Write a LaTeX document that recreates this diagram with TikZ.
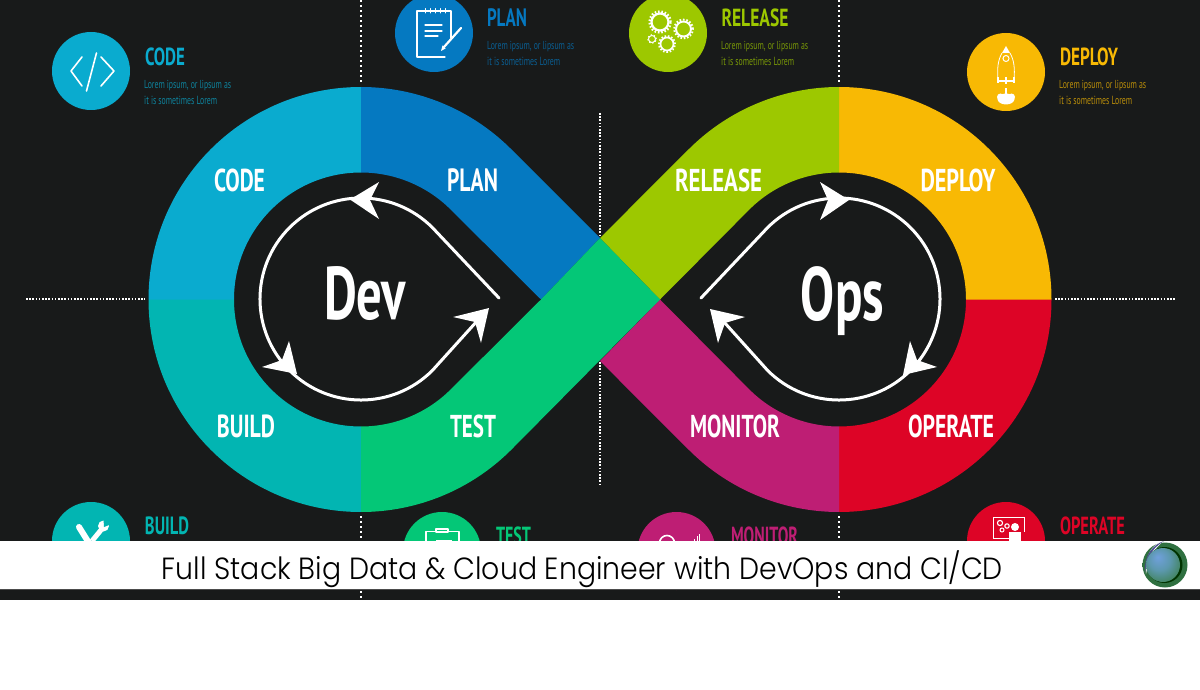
\documentclass[tikz,border=0pt]{standalone}
\usepackage{fontspec}
\usepackage{graphicx}
\setmainfont{PT Sans}
\newfontfamily\labfont[BoldFont=PT Sans Bold]{PT Sans}
\newfontfamily\handfont{Poppins Light}
\definecolor{bgdark}{HTML}{181A1A}
\definecolor{ccode}{HTML}{0AABCF}
\definecolor{cplan}{HTML}{0579C1}
\definecolor{crelease}{HTML}{9DC800}
\definecolor{cdeploy}{HTML}{F8B904}
\definecolor{cbuild}{HTML}{02B5B2}
\definecolor{ctest}{HTML}{04C777}
\definecolor{cmonitor}{HTML}{BE1E74}
\definecolor{coperate}{HTML}{DD0426}
\definecolor{lga}{HTML}{70A0DC}
\definecolor{lgb}{HTML}{5C98AE}
\definecolor{lgc}{HTML}{3D8050}
\definecolor{lgd}{HTML}{1E5A34}
\definecolor{lge}{HTML}{2F7040}
\definecolor{lgf}{HTML}{1C4A30}
\pgfdeclareradialshading{logoball}{\pgfpoint{-8bp}{12bp}}{color(0bp)=(lga); color(16bp)=(lgb); color(34bp)=(lgc); color(50bp)=(lgd)}
\pgfdeclareradialshading{logoring}{\pgfpoint{0bp}{0bp}}{color(0bp)=(lge); color(40bp)=(lge); color(50bp)=(lgf)}
% name, cx, cy, width, height, colour, text
\newcommand{\fitlab}[7]{\node[inner sep=0pt,text=#6] (#1) at (#2,#3) {\resizebox*{#4pt}{#5pt}{\labfont\bfseries #7}};}
% name, left x, y of first line, colour
\newcommand{\loremlab}[4]{%
  \node[inner sep=0pt,anchor=west,text=#4!72!bgdark] (#1a) at (#2,#3) {\resizebox*{87pt}{10.5pt}{\labfont Lorem ipsum, or lipsum as}};
  \node[inner sep=0pt,anchor=west,text=#4!72!bgdark] (#1b) at (#2,#3+14) {\resizebox*{73pt}{8.5pt}{\labfont it is sometimes Lorem}};}
\newcommand{\gearic}[3]{%
  \draw[white,line width=#3*0.26pt] (#1,#2) circle[radius=#3*1pt];
  \draw[white,line width=#3*0.26pt,dash pattern=on 1.6pt off 1.8pt] (#1,#2) circle[radius=#3*1.25pt];}
\tikzset{
  dots/.style={white,line width=1.8pt,dash pattern=on 1.6pt off 1.6pt},
  sparsedots/.style={white,line width=2pt,dash pattern=on 2pt off 3pt},
  loopline/.style={white,line width=3pt,line cap=round,line join=round},
  head/.style={fill=white,draw=none},
  iconline/.style={white,line width=1.3pt,line cap=round,line join=round},
  iconbold/.style={white,line width=2.2pt,line cap=round,line join=round},
  disc/.style={circle,inner sep=0pt,minimum size=78pt}
}
\begin{document}
\begin{tikzpicture}[x=1pt,y=-1pt]
\useasboundingbox (0,0) rectangle (1200,690);
\fill[white] (0,0) rectangle (1200,690);
\fill[bgdark] (0,0) rectangle (1200,600);

% dotted lines
\draw[sparsedots] (361,0) -- (361,84);
\draw[sparsedots] (361,516) -- (361,600);
\draw[sparsedots] (839,0) -- (839,84);
\draw[sparsedots] (839,516) -- (839,600);
\draw[dots] (600,113) -- (600,235);
\draw[dots] (600,362) -- (600,485);
\draw[dots] (26,299) -- (145,299);
\draw[dots] (1055,299) -- (1175,299);

% band
\fill[ccode] (149,299) rectangle (234,300);
\fill[cdeploy] (966,299) rectangle (1051,300);
\fill[ccode] (148.5,299.5) arc[start angle=180,end angle=90,radius=212.5pt] -- (361,172.5) arc[start angle=90,end angle=180,radius=127pt] -- cycle;
\fill[cbuild] (148.5,299.5) arc[start angle=180,end angle=270,radius=212.5pt] -- (361,426.5) arc[start angle=270,end angle=180,radius=127pt] -- cycle;
\fill[cdeploy] (1051.5,299.5) arc[start angle=0,end angle=90,radius=212.5pt] -- (839,172.5) arc[start angle=90,end angle=0,radius=127pt] -- cycle;
\fill[coperate] (1051.5,299.5) arc[start angle=0,end angle=-90,radius=212.5pt] -- (839,426.5) arc[start angle=-90,end angle=0,radius=127pt] -- cycle;
\fill[cplan] (361,87) arc[start angle=90,end angle=45,radius=212.5pt] -- (600,238) -- (541,299.5) -- (450.8,209.7) arc[start angle=45,end angle=90,radius=127pt] -- cycle;
\fill[crelease] (839,87) arc[start angle=90,end angle=135,radius=212.5pt] -- (600,238) -- (660,299.5) -- (749.2,209.7) arc[start angle=135,end angle=90,radius=127pt] -- cycle;
\fill[cmonitor] (839,512) arc[start angle=-90,end angle=-135,radius=212.5pt] -- (600,361) -- (660,299.5) -- (749.2,389.3) arc[start angle=-135,end angle=-90,radius=127pt] -- cycle;
\fill[ctest] (361,512) arc[start angle=-90,end angle=-45,radius=212.5pt] -- (660,299.5) -- (600,238) -- (541,299.5) -- (450.8,389.3) arc[start angle=-45,end angle=-90,radius=127pt] -- cycle;

% band labels
\fitlab{lcode}{239.5}{180.5}{51}{23}{white}{CODE}
\fitlab{lplan}{472.5}{180.5}{51}{23}{white}{PLAN}
\fitlab{lrelease}{718.5}{180.5}{87}{23}{white}{RELEASE}
\fitlab{ldeploy}{958}{180.5}{75}{23}{white}{DEPLOY}
\fitlab{lbuild}{246}{426}{58}{23}{white}{BUILD}
\fitlab{ltest}{473}{426}{46}{23}{white}{TEST}
\fitlab{lmonitor}{735}{426}{90}{23}{white}{MONITOR}
\fitlab{loperate}{951}{426}{86}{23}{white}{OPERATE}
\fitlab{dev}{365}{294}{82}{54}{white}{Dev}
\fitlab{ops}{842.5}{301.5}{83}{69}{white}{Ops}

% loops
\draw[loopline] (499,298) -- (432.4,227.6) arc[start angle=45,end angle=315,radius=101pt] -- (478,320);
\draw[loopline] (701,298) -- (767.6,227.6) arc[start angle=135,end angle=-135,radius=101pt] -- (724,322);
\fill[head] (350,199.5) -- (379,182) -- (370,200) -- (379,219) -- cycle;
\fill[head] (297,374) -- (262,367) -- (282,360) -- (289,341) -- cycle;
\fill[head] (489,308) -- (453,317) -- (475,322) -- (481,343) -- cycle;
\fill[head] (849,200) -- (820,182) -- (828,200) -- (820,220) -- cycle;
\fill[head] (903,375) -- (937,367) -- (917,360) -- (910,341) -- cycle;
\fill[head] (710,309) -- (745,317) -- (725,323) -- (718,343) -- cycle;

% discs
\node[disc,fill=ccode] (icode) at (91,71) {};
\node[disc,fill=cplan] (iplan) at (434,33) {};
\node[disc,fill=crelease] (irelease) at (668,33) {};
\node[disc,fill=cdeploy] (ideploy) at (1006,72) {};
\node[disc,fill=cbuild] (ibuild) at (91,541) {};
\node[disc,fill=ctest] (itest) at (442,551) {};
\node[disc,fill=cmonitor] (imonitor) at (676.5,551) {};
\node[disc,fill=coperate] (ioperate) at (1006,541) {};

% titles
\fitlab{tcode}{165}{57}{40}{18}{ccode}{CODE}
\fitlab{tplan}{507}{18}{40}{18}{cplan}{PLAN}
\fitlab{trelease}{755}{18}{67}{18}{crelease}{RELEASE}
\fitlab{tdeploy}{1089}{57}{58}{18}{cdeploy}{DEPLOY}
\fitlab{tbuild}{167}{526}{44}{18}{cbuild}{BUILD}
\fitlab{ttest}{513.5}{536}{35}{18}{ctest}{TEST}
\fitlab{tmonitor}{764.5}{536}{67}{18}{cmonitor}{MONITOR}
\fitlab{toperate}{1092.5}{526}{65}{18}{coperate}{OPERATE}
\loremlab{pcode}{144}{86}{ccode}
\loremlab{pplan}{487}{47}{cplan}
\loremlab{prelease}{721}{47}{crelease}
\loremlab{pdeploy}{1059}{86}{cdeploy}

% code icon
\draw[iconline,line width=1.6pt] (82,57) -- (71,71) -- (82,86);
\draw[iconline,line width=1.6pt] (101,57) -- (114,71) -- (101,86);
\draw[iconline,line width=1.6pt] (96.5,53) -- (86.5,91);
% plan icon
\draw[iconline] (445,57) -- (417,57) -- (417,11) -- (451,11) -- (451,38);
\foreach \tx in {425,430,435,440,445} \draw[iconline,line width=1pt] (\tx,8.5) -- (\tx,13);
\draw[iconline] (425,25) -- (442,25);
\draw[iconline] (425,31) -- (442,31);
\draw[iconline] (425,36) -- (438,36);
\draw[iconbold] (461,28) -- (444,47);
\fill[white] (441,51) -- (442.5,45.5) -- (445.5,48.5) -- cycle;
% release icon
\gearic{660}{22}{8.5}
\gearic{683.5}{29}{7.5}
\gearic{667}{44}{6.5}
\gearic{652}{39}{3.5}
% deploy icon
\fill[white] (1006,46) -- (1002,53) -- (1010,53) -- cycle;
\draw[white,line width=0.8pt] (1002,53) .. controls (998,60) and (997,68) .. (998,80);
\draw[white,line width=0.8pt] (1010,53) .. controls (1014,60) and (1015,68) .. (1014,80);
\draw[white,line width=1pt] (1006,58.5) circle[radius=3pt];
\draw[white,line width=1.8pt] (998,81) -- (1014,81);
\draw[white,line width=2.8pt] (998,77) -- (998,83.5);
\draw[white,line width=2.8pt] (1014,77) -- (1014,83.5);
\draw[white,line width=2.2pt] (1006,77) -- (1006,84);
\draw[white,line width=1.4pt] (1006,88) -- (1006,95);
\fill[white] (1006,99) ellipse[x radius=8.5pt,y radius=5.5pt];
\fill[white] (1000.5,97) circle[radius=3.5pt];
\fill[white] (1011.5,97) circle[radius=3.5pt];
% build icon
\draw[white,line width=6pt,line cap=round] (79,527) -- (89,543);
\draw[white,line width=5pt] (92,541) -- (101,530);
\fill[white] (103.5,526) circle[radius=5.5pt];
\fill[cbuild] (103.5,519) -- (108,519) -- (109,525) -- (104,527) -- cycle;
% test icon
\draw[iconline,line width=1.2pt] (436,531.5) -- (426,531.5) -- (426,545);
\draw[iconline,line width=1.2pt] (448,531.5) -- (459,531.5) -- (459,545);
\draw[iconline,line width=1.2pt] (436,532) -- (436,529) -- (448,529) -- (448,532) -- cycle;
\draw[white,line width=1.2pt] (436,541) -- (452,541);
% monitor icon
\draw[white,line width=1.6pt] (667,543) circle[radius=7.5pt];
\foreach \bx/\by in {692/541,694.5/539,697/536,699/534} \draw[white,line width=1pt] (\bx,\by) -- (\bx,545);
% operate icon
\draw[white,line width=0.9pt] (1006,538) -- (993,538) -- (993,517) -- (1024,517) -- (1024,532);
\draw[white,line width=1.1pt] (1000,523) circle[radius=2.6pt];
\draw[white,line width=1.1pt] (1007,526) circle[radius=2.2pt];
\draw[white,line width=1pt] (1002,530) circle[radius=2pt];
\fill[white] (1015,527) circle[radius=4pt];
\fill[white] (1009,532) -- (1021,532) -- (1021,545) -- (1009,545) -- cycle;
\draw[white,line width=0.8pt] (1003,538.5) -- (1009,538.5);

% banner
\fill[white] (0,541) rectangle (1200,589);
\fill[black!70] (0,588.6) rectangle (1200,589.4);
\node[inner sep=0pt,text=black] (banner) at (582.5,569.5) {\resizebox*{841pt}{37pt}{\handfont Full Stack Big Data \& Cloud Engineer with DevOps and CI/CD}};

% logo
\shade[shading=logoring] (1165,565) circle[radius=22.5pt];
\fill[white] (1164,541) .. controls (1151,544) and (1145,556) .. (1146,574) .. controls (1149,558) and (1154,548) .. (1164,541) -- cycle;
\fill[black!35!blue!40!gray] (1164,541) .. controls (1152,545) and (1144,556) .. (1145,572) .. controls (1147,558) and (1151,549) .. (1164,541) -- cycle;
\fill[black!80!green] (1164.5,565) circle[radius=18pt];
\shade[shading=logoball] (1163,565) circle[radius=17pt];
\end{tikzpicture}
\end{document}
